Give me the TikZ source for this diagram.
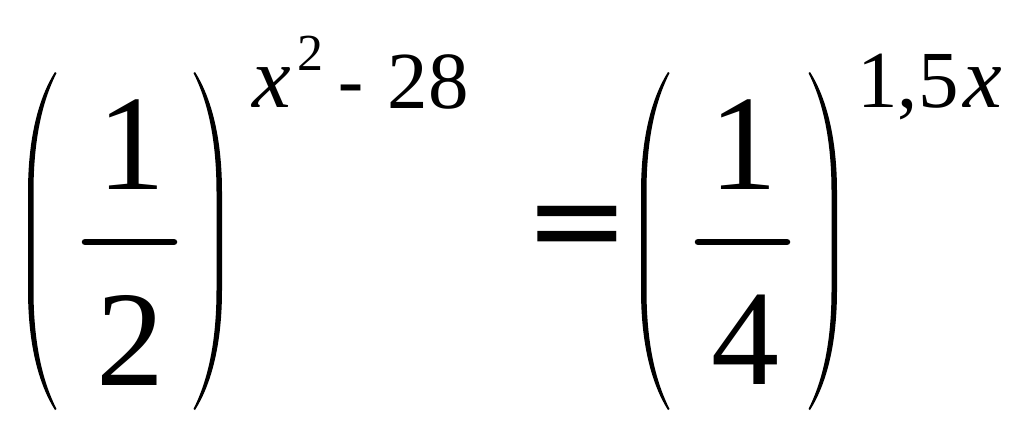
\documentclass[tikz,border=0pt]{standalone}
\usepackage{fontspec}
\usepackage{tikz}
\newfontfamily\signfont{DejaVu Sans}
\newfontfamily\varfont{Liberation Serif}
\tikzstyle{Big}=[inner sep=0pt,font=\varfont\fontsize{136}{140}\selectfont]
\tikzstyle{Sign}=[inner sep=0pt,font=\signfont\fontsize{126}{130}\selectfont]
\tikzstyle{SupSign}=[inner sep=0pt,font=\signfont\fontsize{75}{80}\selectfont]
\tikzstyle{Sup}=[inner sep=0pt,font=\varfont\fontsize{81}{84}\selectfont]
\tikzstyle{SupSmall}=[inner sep=0pt,font=\varfont\fontsize{52}{56}\selectfont]
\tikzstyle{Var}=[inner sep=0pt,font=\varfont\itshape\fontsize{87}{90}\selectfont]
\tikzstyle{FracBar}=[line width=6.5pt,line cap=round]
\tikzset{Paren/.pic={
    \fill (0,0) .. controls (-14,22) and (-27,60) .. (-27,120) -- (-27,218)
        .. controls (-27,278) and (-14,316) .. (0,338) -- (1.5,337)
        .. controls (-10,314) and (-21.5,278) .. (-21.5,218) -- (-21.5,120)
        .. controls (-21.5,60) and (-10,24) .. (1.5,1) -- cycle;
}}
\begin{document}
\begin{tikzpicture}[x=1pt,y=-1pt]
        \useasboundingbox (0,0) rectangle (1024,437);
        % left side
        \pic at (55,72) {Paren};
        \pic[xscale=-1] at (195,72) {Paren};
        \node[Big,anchor=base](numA)at(131,189){1};
        \node[Big,anchor=base](denA)at(130,385){2};
        \draw[FracBar](85,242)--(174,242);
        \node[Var,anchor=base](varA)at(272,107){x};
        \node[SupSmall,anchor=base](sqA)at(310,70){2};
        \node[SupSign,anchor=base](minus)at(351,108){-};
        \node[Sup,anchor=base](constA)at(428,108){28};
        % equals sign
        \node[Sign,anchor=center](eq)at(577,235){=};
        % right side
        \pic at (668,72) {Paren};
        \pic[xscale=-1] at (810,72) {Paren};
        \node[Big,anchor=base](numB)at(743,189){1};
        \node[Big,anchor=base](denB)at(745,384){4};
        \draw[FracBar](698,242)--(787,242);
        \node[Sup,anchor=base](coefB)at(908,107){1,5};
        \node[Var,anchor=base](varB)at(983,107){x};
    \end{tikzpicture}
\end{document}
